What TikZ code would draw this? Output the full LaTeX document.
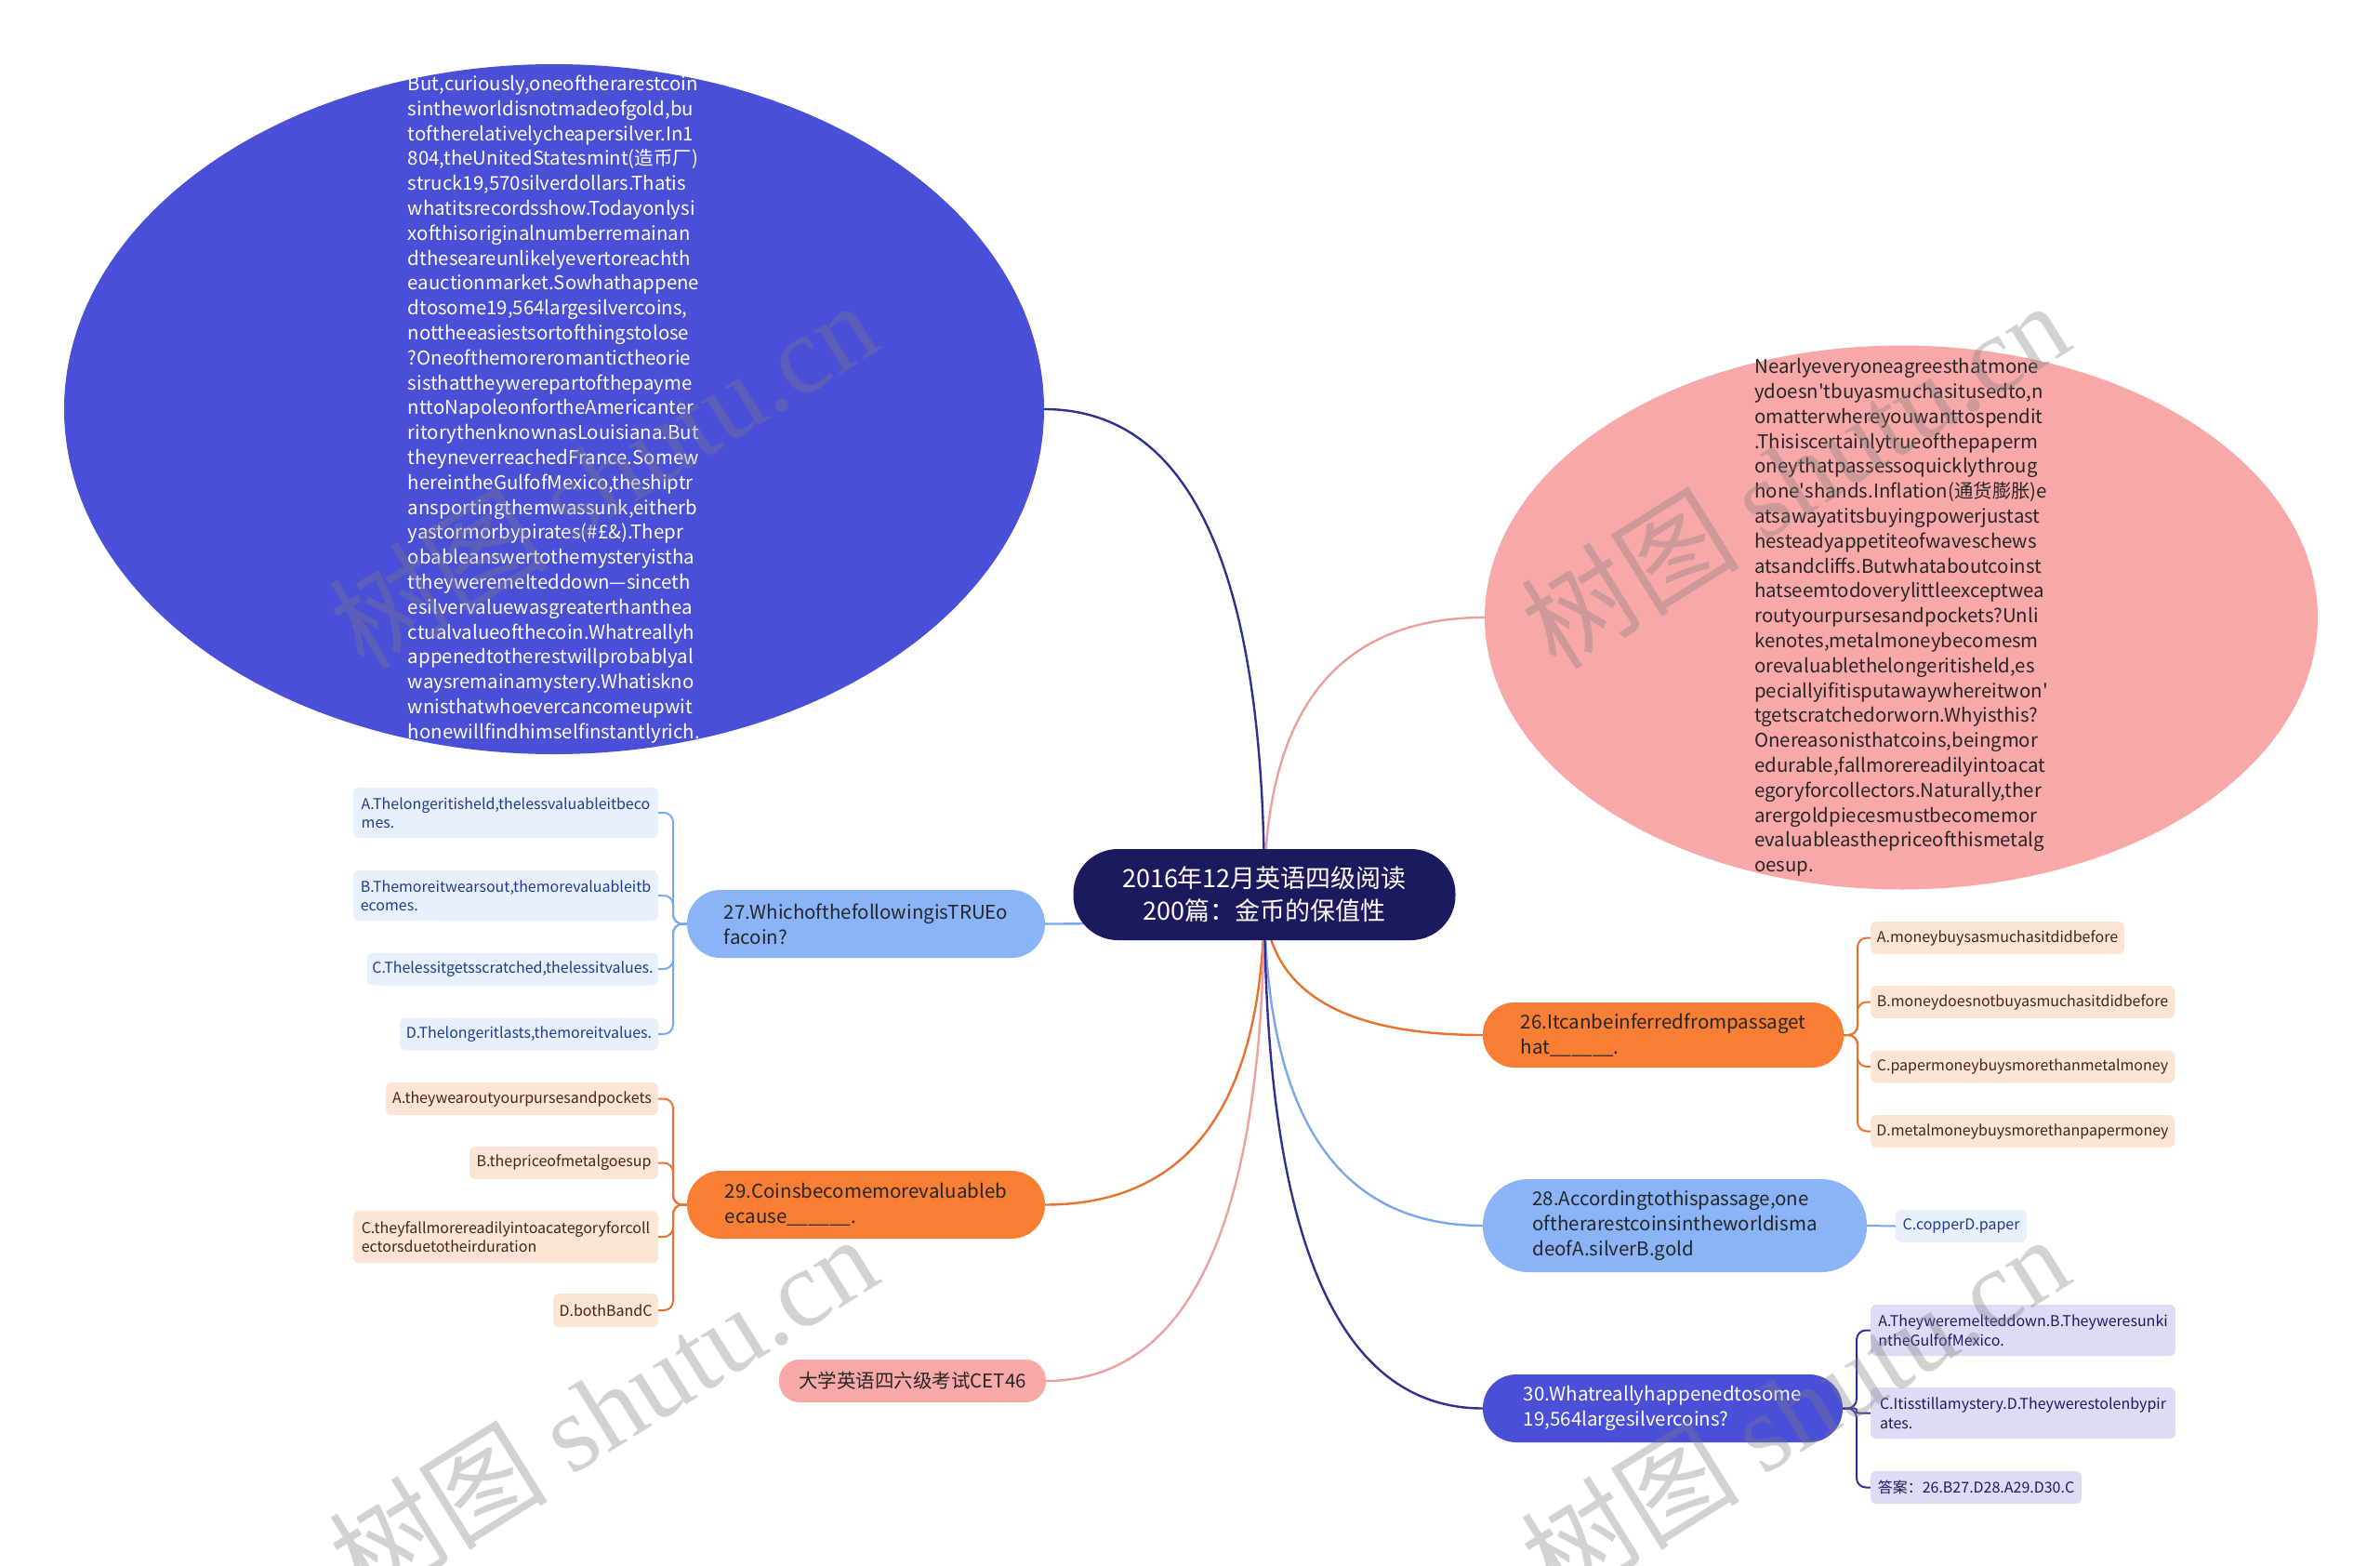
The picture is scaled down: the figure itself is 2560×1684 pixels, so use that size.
\documentclass[tikz,border=0pt]{standalone}
\usepackage{fontspec}
\setmainfont{Noto Sans CJK SC}
\newfontfamily\wmserif{Liberation Serif}
\usetikzlibrary{shapes.geometric,calc}
\pgfdeclarelayer{bg}
\pgfsetlayers{bg,main}
\definecolor{rootc}{HTML}{1C1A5E}
\definecolor{bluec}{HTML}{4A4FD8}
\definecolor{bluel}{HTML}{2E3192}
\definecolor{pinkc}{HTML}{F9A8A8}
\definecolor{pinkl}{HTML}{EE9E9E}
\definecolor{lbc}{HTML}{8AB4F8}
\definecolor{lbl}{HTML}{7AA6EE}
\definecolor{orc}{HTML}{F77E33}
\definecolor{orl}{HTML}{E8712B}
\definecolor{lbleaf}{HTML}{E8F0FE}
\definecolor{orleaf}{HTML}{FDE5D6}
\definecolor{bleaf}{HTML}{DDDCF7}
\definecolor{txtb}{HTML}{1F3D8C}
\definecolor{txto}{HTML}{4A2511}
\definecolor{txtn}{HTML}{1C1A5E}
\definecolor{txtd}{HTML}{262626}
\definecolor{wmgray}{HTML}{7F7F7F}
\newcommand\rtedge[2]{\draw[edge,#2] (R.center) .. controls ($(R.center)!0.667!(R.center|-#1)$) and ($(#1)!0.667!(R.center|-#1)$) .. (#1);}
\newcommand\lbranch[4][]{\draw[spine,#4,#1] (#2.west) -- ($(#2.west)+(-15,0)$) |- (#3.east);}
\newcommand\rbranch[4][]{\draw[spine,#4,#1] (#2.east) -- ($(#2.east)+(15,0)$) |- (#3.west);}
\begin{document}
\begin{tikzpicture}[x=1pt,y=-1pt,
  every node/.style={inner sep=0pt, outer sep=0pt},
  pill/.style={align=left, font=\fontsize{20.5}{27}\selectfont, text=txtd},
  leaf/.style={align=left, rounded corners=6pt, font=\fontsize{16}{20.5}\selectfont},
  leafB/.style={leaf, fill=lbleaf, text=txtb},
  leafO/.style={leaf, fill=orleaf, text=txto},
  leafN/.style={leaf, fill=bleaf, text=txtn},
  edge/.style={line width=2.4pt},
  spine/.style={line width=2pt, rounded corners=10pt},
  bigtext/.style={align=left, font=\fontsize{20.4}{26.8}\selectfont},
  wm/.style={rotate=32, text=wmgray, opacity=0.35, font=\fontsize{118}{118}\selectfont}
]
\useasboundingbox (0,0) rectangle (2560,1684);

% root
\node[fill=rootc, rounded corners=48pt, minimum width=411pt, minimum height=98pt, align=center, text=white, font=\fontsize{27}{35}\selectfont] (R) at (1360,962) {2016年12月英语四级阅读\\200篇：金币的保值性};

% big ellipses
\node[ellipse, fill=bluec, minimum width=1054pt, minimum height=742pt] (P1) at (596,440) {};
\node[bigtext, text=white] (P1t) at (P1.center) {But,curiously,oneoftherarestcoin\\
sintheworldisnotmadeofgold,bu\\
toftherelativelycheapersilver.In1\\
804,theUnitedStatesmint(造币厂)\\
struck19,570silverdollars.Thatis\\
whatitsrecordsshow.Todayonlysi\\
xofthisoriginalnumberremainan\\
dtheseareunlikelyevertoreachth\\
eauctionmarket.Sowhathappene\\
dtosome19,564largesilvercoins,\\
nottheeasiestsortofthingstolose\\
?Oneofthemoreromantictheorie\\
sisthattheywerepartofthepayme\\
nttoNapoleonfortheAmericanter\\
ritorythenknownasLouisiana.But\\
theyneverreachedFrance.Somew\\
hereintheGulfofMexico,theshiptr\\
ansportingthemwassunk,eitherb\\
yastormorbypirates(\#£\&).Thepr\\
obableanswertothemysteryistha\\
ttheyweremelteddown—sinceth\\
esilvervaluewasgreaterthanthea\\
ctualvalueofthecoin.Whatreallyh\\
appenedtotherestwillprobablyal\\
waysremainamystery.Whatiskno\\
wnisthatwhoevercancomeupwit\\
honewillfindhimselfinstantlyrich.};

\node[ellipse, fill=pinkc, minimum width=896pt, minimum height=585pt] (P2) at (2045,664) {};
\node[bigtext, text=txtd] (P2t) at (P2.center) {Nearlyeveryoneagreesthatmone\\
ydoesn\textquotesingle tbuyasmuchasitusedto,n\\
omatterwhereyouwanttospendit\\
.Thisiscertainlytrueofthepaperm\\
oneythatpassessoquicklythroug\\
hone\textquotesingle shands.Inflation(通货膨胀)e\\
atsawayatitsbuyingpowerjustast\\
hesteadyappetiteofwaveschews\\
atsandcliffs.Butwhataboutcoinst\\
hatseemtodoverylittleexceptwea\\
routyourpursesandpockets?Unli\\
kenotes,metalmoneybecomesm\\
orevaluablethelongeritisheld,es\\
peciallyifitisputawaywhereitwon\textquotesingle\\
tgetscratchedorworn.Whyisthis?\\
Onereasonisthatcoins,beingmor\\
edurable,fallmorereadilyintoacat\\
egoryforcollectors.Naturally,ther\\
arergoldpiecesmustbecomemor\\
evaluableasthepriceofthismetalg\\
oesup.};

% question nodes
\node[pill, fill=lbc, rounded corners=36pt, minimum width=385pt, minimum height=73pt] (Q27) at (931.5,993.5) {27.WhichofthefollowingisTRUEo\\facoin?};
\node[pill, fill=orc, rounded corners=36pt, minimum width=385pt, minimum height=73pt] (Q29) at (931.5,1295.5) {29.Coinsbecomemorevaluableb\\ecause\_\_\_\_\_\_.};
\node[pill, fill=pinkc, rounded corners=22pt, minimum width=287pt, minimum height=46pt, font=\fontsize{20.5}{25}\selectfont] (CET) at (981.5,1485) {大学英语四六级考试CET46};
\node[pill, fill=orc, rounded corners=34pt, minimum width=388pt, minimum height=70pt] (Q26) at (1789,1113) {26.Itcanbeinferredfrompassaget\\hat\_\_\_\_\_\_.};
\node[pill, fill=lbc, rounded corners=49pt, minimum width=413pt, minimum height=100pt] (Q28) at (1801.5,1318) {28.Accordingtothispassage,one\\oftherarestcoinsintheworldisma\\deofA.silverB.gold};
\node[pill, fill=bluec, text=white, rounded corners=36pt, minimum width=387pt, minimum height=73pt] (Q30) at (1788.5,1514.5) {30.Whatreallyhappenedtosome\\19,564largesilvercoins?};

% leaves of 27
\node[leafB, minimum width=328pt, minimum height=54pt] (A27) at (544,874) {A.Thelongeritisheld,thelessvaluableitbeco\\mes.};
\node[leafB, minimum width=328pt, minimum height=54pt] (B27) at (544,963) {B.Themoreitwearsout,themorevaluableitb\\ecomes.};
\node[leafB, minimum width=313pt, minimum height=35pt] (C27) at (551.5,1042) {C.Thelessitgetsscratched,thelessitvalues.};
\node[leafB, minimum width=278pt, minimum height=35pt] (D27) at (569,1112) {D.Thelongeritlasts,themoreitvalues.};

% leaves of 29
\node[leafO, minimum width=293pt, minimum height=35pt] (A29) at (561.5,1181.5) {A.theywearoutyourpursesandpockets};
\node[leafO, minimum width=203pt, minimum height=35pt] (B29) at (606.5,1250.5) {B.thepriceofmetalgoesup};
\node[leafO, minimum width=328pt, minimum height=56pt] (C29) at (544,1330) {C.theyfallmorereadilyintoacategoryforcoll\\ectorsduetotheirduration};
\node[leafO, minimum width=113pt, minimum height=36pt] (D29) at (651.5,1409) {D.bothBandC};

% leaves of 26
\node[leafO, minimum width=273pt, minimum height=35pt] (A26) at (2148.5,1008.5) {A.moneybuysasmuchasitdidbefore};
\node[leafO, minimum width=327pt, minimum height=35pt] (B26) at (2175.5,1077.5) {B.moneydoesnotbuyasmuchasitdidbefore};
\node[leafO, minimum width=327pt, minimum height=35pt] (C26) at (2175.5,1147) {C.papermoneybuysmorethanmetalmoney};
\node[leafO, minimum width=327pt, minimum height=35pt] (D26) at (2175.5,1216.5) {D.metalmoneybuysmorethanpapermoney};

% leaf of 28
\node[leafB, minimum width=141pt, minimum height=35pt] (L28) at (2109.5,1318.5) {C.copperD.paper};

% leaves of 30
\node[leafN, minimum width=328pt, minimum height=55pt] (A30) at (2176,1430.5) {A.Theyweremelteddown.B.Theyweresunki\\ntheGulfofMexico.};
\node[leafN, minimum width=328pt, minimum height=55pt] (C30) at (2176,1519.5) {C.Itisstillamystery.D.Theywerestolenbypir\\ates.};
\node[leafN, minimum width=227pt, minimum height=35pt] (N30) at (2125.5,1599.5) {答案：26.B27.D28.A29.D30.C};

% connectors
\begin{pgfonlayer}{bg}
\rtedge{P1.east}{bluel}
\rtedge{P2.west}{pinkl}
\rtedge{Q27.east}{lbl}
\rtedge{Q29.east}{orl}
\rtedge{CET.east}{pinkl}
\rtedge{Q26.west}{orl}
\rtedge{Q28.west}{lbl}
\rtedge{Q30.west}{bluel}
\lbranch{Q27}{A27}{lbl}
\lbranch{Q27}{B27}{lbl}
\lbranch{Q27}{C27}{lbl}
\lbranch{Q27}{D27}{lbl}
\lbranch{Q29}{A29}{orl}
\lbranch{Q29}{B29}{orl}
\lbranch{Q29}{C29}{orl}
\lbranch{Q29}{D29}{orl}
\rbranch{Q26}{A26}{orl}
\rbranch{Q26}{B26}{orl}
\rbranch{Q26}{C26}{orl}
\rbranch{Q26}{D26}{orl}
\draw[spine,lbl] (Q28.east) -- (L28.west);
\rbranch{Q30}{A30}{bluel}
\rbranch[rounded corners=2pt]{Q30}{C30}{bluel}
\rbranch{Q30}{N30}{bluel}
\end{pgfonlayer}

% watermarks
\begin{scope}
\clip (0,0) rectangle (2560,1684);
\node[wm] (wm1) at (648,510) {树图 {\wmserif shutu.cn}};
\node[wm] (wm2) at (1930,510) {树图 {\wmserif shutu.cn}};
\node[wm] (wm3) at (648,1514) {树图 {\wmserif shutu.cn}};
\node[wm] (wm4) at (1930,1514) {树图 {\wmserif shutu.cn}};
\end{scope}
\end{tikzpicture}
\end{document}
